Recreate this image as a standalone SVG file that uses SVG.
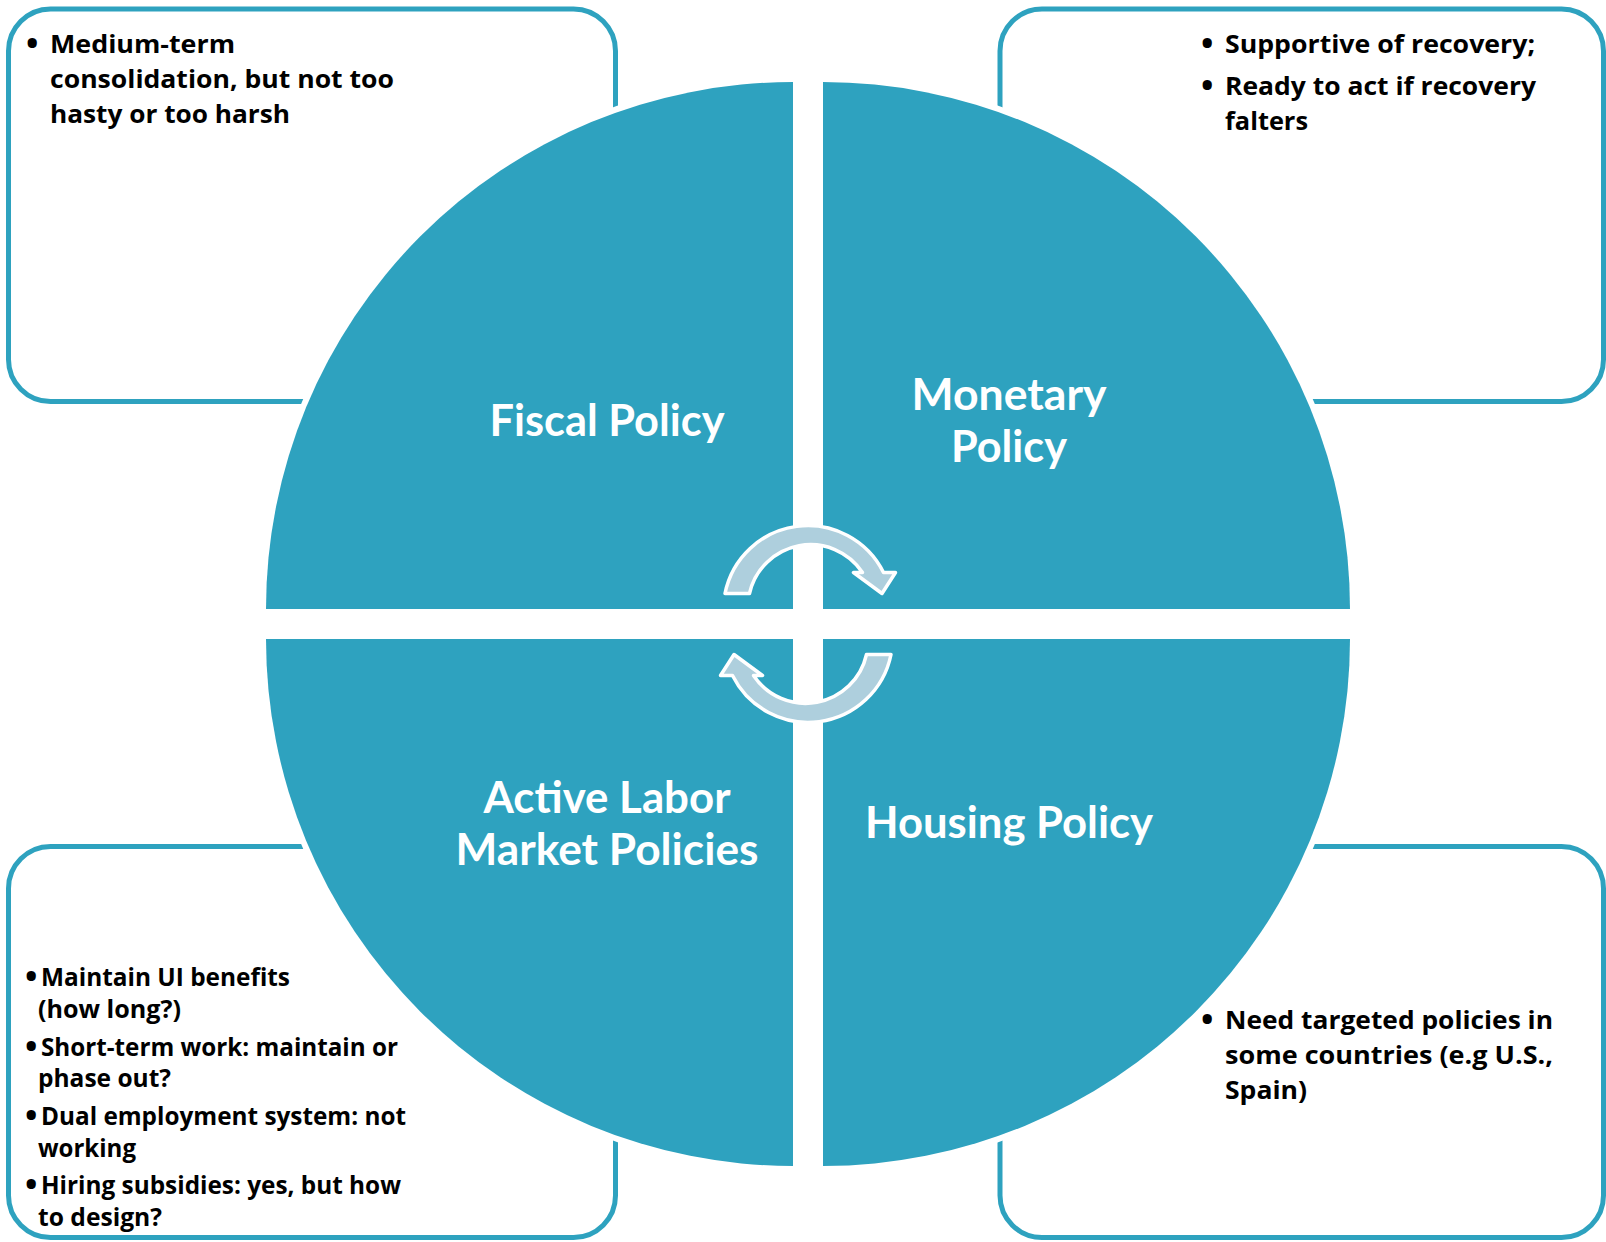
<svg xmlns="http://www.w3.org/2000/svg" width="1606" height="1242" viewBox="0 0 1606 1242">
<style>
.box{fill:#fff;stroke:#2EA2BF;stroke-width:5}
.halo{fill:#fff;stroke:#fff;stroke-width:12}
.quad{fill:#2EA2BF}
.arrow{fill:#AECFDD;stroke:#fff;stroke-width:3.5;stroke-linejoin:round}
.t{font-family:"Open Sans",Lato,sans-serif;font-weight:700;fill:#000;font-size:25.5px}
.s{font-family:"Open Sans",Lato,sans-serif;font-weight:700;fill:#000;font-size:24.2px}
.b{font-family:"Open Sans",Lato,sans-serif;font-weight:700;fill:#000;font-size:33px}
.lbl{font-family:Lato,"Open Sans",sans-serif;font-weight:700;fill:#fff;font-size:43.5px;text-anchor:middle}
</style>
<rect width="1606" height="1242" fill="#fff"/>
<g id="box-fiscal"><rect class="box" x="8.5" y="9" width="607" height="392.5" rx="42"/>
<text class="b" x="26" y="55">•</text>
<text class="t" x="50" y="53" textLength="185" lengthAdjust="spacingAndGlyphs">Medium-term</text>
<text class="t" x="50" y="88" textLength="344" lengthAdjust="spacingAndGlyphs">consolidation, but not too</text>
<text class="t" x="50" y="123" textLength="240" lengthAdjust="spacingAndGlyphs">hasty or too harsh</text></g>
<g id="box-monetary"><rect class="box" x="1000" y="9" width="603.5" height="392.5" rx="42"/>
<text class="b" x="1201" y="55">•</text>
<text class="t" x="1225" y="53" textLength="310" lengthAdjust="spacingAndGlyphs">Supportive of recovery;</text>
<text class="b" x="1201" y="96.5">•</text>
<text class="t" x="1225" y="94.5" textLength="311" lengthAdjust="spacingAndGlyphs">Ready to act if recovery</text>
<text class="t" x="1225" y="129.5" textLength="83" lengthAdjust="spacingAndGlyphs">falters</text></g>
<g id="box-labor"><rect class="box" x="8.5" y="846.5" width="607" height="391" rx="42"/>
<text class="b" x="25" y="988">•</text>
<text class="s" x="41" y="986" textLength="249" lengthAdjust="spacingAndGlyphs">Maintain UI benefits</text>
<text class="s" x="38" y="1018" textLength="143" lengthAdjust="spacingAndGlyphs">(how long?)</text>
<text class="b" x="25" y="1058">•</text>
<text class="s" x="41" y="1056" textLength="357" lengthAdjust="spacingAndGlyphs">Short-term work: maintain or</text>
<text class="s" x="38" y="1087" textLength="133" lengthAdjust="spacingAndGlyphs">phase out?</text>
<text class="b" x="25" y="1127">•</text>
<text class="s" x="41" y="1125" textLength="365" lengthAdjust="spacingAndGlyphs">Dual employment system: not</text>
<text class="s" x="38" y="1157" textLength="98" lengthAdjust="spacingAndGlyphs">working</text>
<text class="b" x="25" y="1196">•</text>
<text class="s" x="41" y="1194" textLength="360" lengthAdjust="spacingAndGlyphs">Hiring subsidies: yes, but how</text>
<text class="s" x="38" y="1226" textLength="124" lengthAdjust="spacingAndGlyphs">to design?</text></g>
<g id="box-housing"><rect class="box" x="1000" y="846.5" width="603.5" height="391" rx="42"/>
<text class="b" x="1201" y="1031">•</text>
<text class="t" x="1225" y="1029" textLength="328" lengthAdjust="spacingAndGlyphs">Need targeted policies in</text>
<text class="t" x="1225" y="1064" textLength="328" lengthAdjust="spacingAndGlyphs">some countries (e.g U.S.,</text>
<text class="t" x="1225" y="1099" textLength="82" lengthAdjust="spacingAndGlyphs">Spain)</text></g>
<g id="halo">
<path class="halo" d="M793 609 L266 609 A527 527 0 0 1 793 82 Z"/>
<path class="halo" d="M823 609 L823 82 A527 527 0 0 1 1350 609 Z"/>
<path class="halo" d="M823 639 L1350 639 A527 527 0 0 1 823 1166 Z"/>
<path class="halo" d="M793 639 L793 1166 A527 527 0 0 1 266 639 Z"/>
</g>
<g id="fiscal"><path class="quad" d="M793 609 L266 609 A527 527 0 0 1 793 82 Z"/><text class="lbl" x="607" y="436" textLength="235" lengthAdjust="spacingAndGlyphs">Fiscal Policy</text></g>
<g id="monetary"><path class="quad" d="M823 609 L823 82 A527 527 0 0 1 1350 609 Z"/><text class="lbl" x="1009" y="410" textLength="195" lengthAdjust="spacingAndGlyphs">Monetary</text><text class="lbl" x="1009" y="462" textLength="116" lengthAdjust="spacingAndGlyphs">Policy</text></g>
<g id="housing"><path class="quad" d="M823 639 L1350 639 A527 527 0 0 1 823 1166 Z"/><text class="lbl" x="1009" y="838" textLength="288" lengthAdjust="spacingAndGlyphs">Housing Policy</text></g>
<g id="labor"><path class="quad" d="M793 639 L793 1166 A527 527 0 0 1 266 639 Z"/><text class="lbl" x="607" y="813" textLength="247" lengthAdjust="spacingAndGlyphs">Active Labor</text><text class="lbl" x="607" y="865" textLength="303" lengthAdjust="spacingAndGlyphs">Market Policies</text></g>
<g id="connectors">
<path class="arrow" d="M725 593.5 A84.5 84.5 0 0 1 883.5 572.5 L895.5 572.5 L882 593.5 L853.5 572.5 L862.5 572.5 A62.5 62.5 0 0 0 749.5 593.5 Z"/>
<path class="arrow" transform="rotate(180 808 624)" d="M725 593.5 A84.5 84.5 0 0 1 883.5 572.5 L895.5 572.5 L882 593.5 L853.5 572.5 L862.5 572.5 A62.5 62.5 0 0 0 749.5 593.5 Z"/>
</g>
</svg>
